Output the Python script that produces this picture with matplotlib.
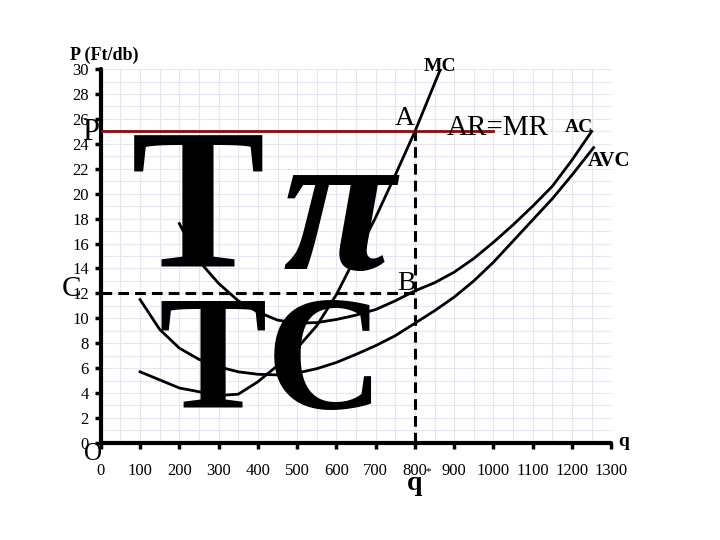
import numpy as np
import matplotlib.pyplot as plt

plt.rcParams['font.family'] = ['Liberation Serif', 'DejaVu Serif']

# Kurven (q in db, P in Ft/db)
q_mc = [100, 200, 300, 350, 400, 450, 500, 550, 600, 650, 700, 750, 800, 865]
mc = [5.7, 4.4, 3.8, 3.9, 4.9, 6.2, 7.6, 9.4, 11.9, 15.0, 18.1, 21.5, 25.0, 30.0]

q_ac = [200, 250, 300, 350, 400, 450, 500, 550, 600, 650, 700, 750, 800,
        850, 900, 950, 1000, 1050, 1100, 1150, 1200, 1250]
ac = [17.6, 14.6, 12.8, 11.4, 10.5, 9.85, 9.6, 9.65, 9.9, 10.25, 10.7, 11.4, 12.2,
      12.85, 13.7, 14.8, 16.1, 17.5, 19.0, 20.6, 22.7, 25.0]

q_avc = [100, 150, 200, 250, 300, 350, 400, 450, 500, 550, 600, 650, 700, 750,
         800, 850, 900, 950, 1000, 1050, 1100, 1150, 1200, 1255]
avc = [11.5, 9.1, 7.6, 6.7, 6.1, 5.7, 5.5, 5.45, 5.6, 5.95, 6.45, 7.1, 7.8, 8.6,
       9.6, 10.6, 11.7, 13.0, 14.5, 16.2, 17.9, 19.6, 21.5, 23.7]

p_star = 25     # AR=MR
q_star = 800
c_star = 12     # AC(q*)
q_ar_end = 1000

fig = plt.figure(figsize=(7.2, 5.4), dpi=100)
ax = fig.add_axes([0.140, 0.180, 0.709, 0.692])

ax.set_xlim(0, 1300)
ax.set_ylim(0, 30)
ax.set_xticks(np.arange(0, 1301, 100))
ax.set_yticks(np.arange(0, 31, 2))
ax.set_xticks(np.arange(0, 1301, 50), minor=True)
ax.set_yticks(np.arange(0, 31, 1), minor=True)
ax.grid(which='both', color='#e6e6f2', lw=0.8, zorder=0)
ax.set_axisbelow(True)
for s in ['top', 'right']:
    ax.spines[s].set_visible(False)
for s in ['left', 'bottom']:
    ax.spines[s].set_linewidth(3)
    ax.spines[s].set_capstyle('round')
ax.tick_params(which='major', direction='out', length=4.5, width=2.5, labelsize=12)
ax.tick_params(which='minor', length=0)
ax.tick_params(axis='x', pad=10)
ax.tick_params(axis='y', pad=4)

# nagy feliratok
ax.text(247, 14.1, 'T', fontsize=145, fontweight='bold', ha='center', va='baseline', zorder=1)
ax.text(606, 13.95, 'π', fontsize=148, fontweight='bold', fontstyle='italic',
        ha='center', va='baseline', zorder=1)
ax.text(433, 2.8, 'TC', fontsize=117, fontweight='bold', ha='center', va='baseline', zorder=1)

ax.plot(q_mc, mc, 'k-', lw=2, zorder=3)
ax.plot(q_ac, ac, 'k-', lw=2, zorder=3)
ax.plot(q_avc, avc, 'k-', lw=2, zorder=3)
ax.plot([0, q_ar_end], [p_star, p_star], color='#8b0a0a', lw=2, zorder=3)
ax.plot([0, q_star], [c_star, c_star], 'k', lw=2.2, dashes=(3.5, 2), zorder=3)
ax.plot([q_star, q_star], [0, p_star], 'k', lw=2.2, dashes=(3.5, 2), zorder=3)

kw = dict(ha='center', va='center', clip_on=False, zorder=4)
ax.text(10, 31.1, 'P (Ft/db)', fontsize=13, fontweight='bold', **kw)
ax.text(864, 30.2, 'MC', fontsize=14, fontweight='bold', **kw)
ax.text(775, 26.0, 'A', fontsize=20, **kw)
ax.text(1012, 25.3, 'AR=MR', fontsize=21, **kw)
ax.text(1218, 25.3, 'AC', fontsize=14, fontweight='bold', **kw)
ax.text(1295, 22.6, 'AVC', fontsize=15, fontweight='bold', **kw)
ax.text(-25, 24.9, 'P', fontsize=22, **kw)
ax.text(-74, 12.35, 'C', fontsize=21, **kw)
ax.text(778, 12.75, 'B', fontsize=20, **kw)
ax.text(-20, -0.9, 'O', fontsize=18, **kw)
ax.text(1331, 0.1, 'q', fontsize=14, fontweight='bold', **kw)
ax.text(800, -3.3, 'q', fontsize=20, fontweight='bold', **kw)
ax.text(834, -2.3, '*', fontsize=8, **kw)

plt.savefig('out.png', dpi=100)
